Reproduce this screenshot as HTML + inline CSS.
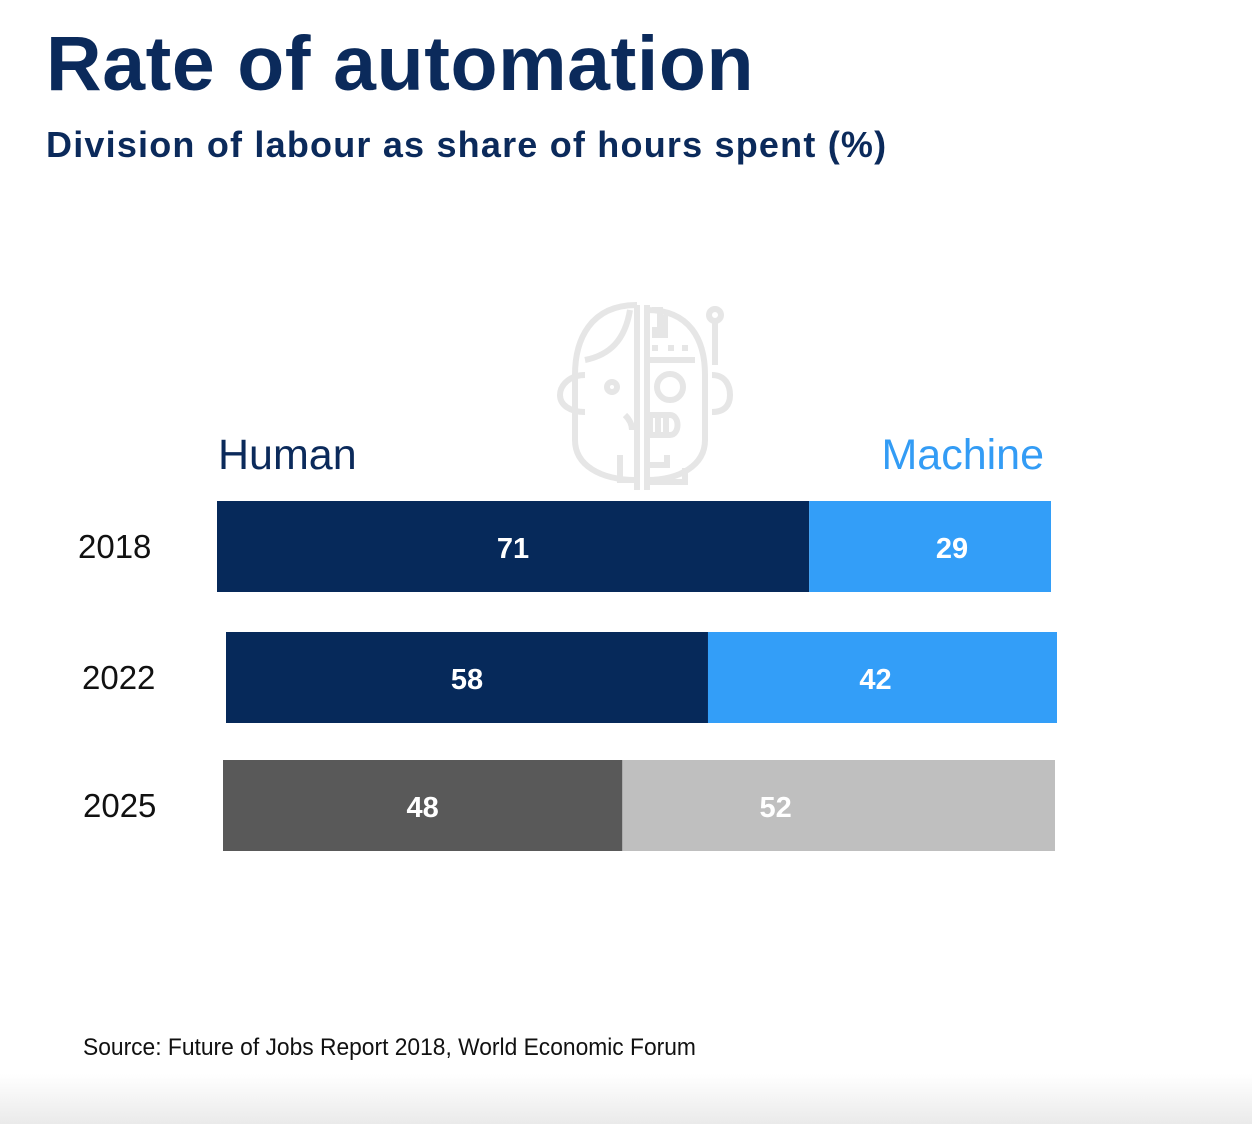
<!DOCTYPE html>
<html><head><meta charset="utf-8"><style>
body{margin:0;width:1252px;height:1124px;position:relative;overflow:hidden;background:#fff;font-family:"Liberation Sans",sans-serif}
.t{position:absolute;white-space:nowrap}
</style></head><body>
<div class="t" style="left:46px;top:20px;font-size:77px;font-weight:bold;color:#0b2a5b;letter-spacing:0.6px">Rate of automation</div>
<div class="t" style="left:46px;top:124px;font-size:36px;font-weight:bold;color:#0b2a5b;letter-spacing:1.2px">Division of labour as share of hours spent (%)</div>
<svg style="position:absolute;left:540px;top:290px" width="210" height="210" viewBox="0 0 210 210" fill="none" stroke="#e6e6e6" stroke-width="6">
<path d="M97 15 C50 15 35 50 35 85 L35 150 C35 175 60 190 97 190"/>
<path d="M45 70 C70 65 85 50 90 20"/>
<path d="M45 85 C30 85 20 95 20 105 C20 115 30 122 45 122"/>
<circle cx="72" cy="97" r="5"/>
<path d="M85 125 C90 130 92 135 92 140"/>
<path d="M97 15 L97 200"/><path d="M107 15 L107 200"/>
<path d="M80 165 L80 190 L97 190"/>
<path d="M107 20 C150 20 165 50 165 85 L165 150 C165 175 140 190 107 190"/>
<path d="M112 20 L120 20 L120 40 L112 40"/><path d="M125 25 L125 45 L112 45"/>
<path d="M112 58 L118 58 M128 58 L134 58 M142 58 L148 58"/>
<path d="M107 70 L155 70"/>
<circle cx="130" cy="97" r="13"/>
<path d="M110 125 L130 125 C140 125 140 145 130 145 L110 145 Z M118 125 L118 145 M126 125 L126 145"/>
<path d="M127 165 L127 175 L110 175 M145 178 L145 192 L110 192"/>
<circle cx="175" cy="25" r="6"/><path d="M175 31 L175 75"/>
<path d="M172 85 C185 85 190 95 190 105 C190 115 185 122 172 122"/>
</svg>
<div class="t" style="left:218px;top:431px;font-size:43px;color:#0b2a5b">Human</div>
<div class="t" style="right:208px;top:431px;font-size:43px;color:#339cf5">Machine</div>
<svg id="chart" style="position:absolute;left:0;top:0" width="1252" height="1124"></svg>
<div class="t" style="left:83px;top:1034px;font-size:24px;color:#111;transform:scaleX(0.95);transform-origin:left">Source: Future of Jobs Report 2018, World Economic Forum</div>
<div style="position:absolute;left:0;bottom:0;width:1252px;height:50px;background:linear-gradient(#fff,#eaeaea)"></div>
<script>
const years=["2018","2022","2025"];
const human=[71,58,48];
const machine=[29,42,52];
const svg=document.getElementById('chart');
const NS='http://www.w3.org/2000/svg';
const rows=[{x:217,y:501,w:834,lx:78,mo:22},{x:226,y:632,w:831,lx:82,mo:-7},{x:223,y:760,w:832,lx:83,mo:-63}];
const cols=[["#06295a","#339ef8"],["#06295a","#339ef8"],["#595959","#bfbfbf"]];
function xs(i,v){return rows[i].w*v/100;}
years.forEach((yr,i)=>{
  const r=rows[i],hw=xs(i,human[i]),mw=xs(i,machine[i]);
  const a=document.createElementNS(NS,'rect');
  
  
  a.setAttribute('x',r.x);a.setAttribute('y',r.y);a.setAttribute('width',hw);a.setAttribute('height',91);a.setAttribute('fill',cols[i][0]);svg.appendChild(a);
  const b=document.createElementNS(NS,'rect');
  
  
  b.setAttribute('x',r.x+hw);b.setAttribute('y',r.y);b.setAttribute('width',mw);b.setAttribute('height',91);b.setAttribute('fill',cols[i][1]);svg.appendChild(b);
  const mk=(name,x,txt,size,fill,weight,anchor)=>{const t=document.createElementNS(NS,'text');
    
    
    t.setAttribute('x',x);t.setAttribute('y',r.y+57);t.setAttribute('font-size',size);t.setAttribute('fill',fill);t.setAttribute('font-weight',weight);t.setAttribute('text-anchor',anchor);t.setAttribute('font-family','Liberation Sans, sans-serif');t.textContent=txt;svg.appendChild(t);};
  mk('value-human-'+yr,r.x+hw/2,human[i],29,'#fff','bold','middle');
  mk('value-machine-'+yr,r.x+hw+mw/2+r.mo,machine[i],29,'#fff','bold','middle');
  mk('year-label-'+yr,r.lx,yr,33,'#111','normal','start');
});
</script>
</body></html>
